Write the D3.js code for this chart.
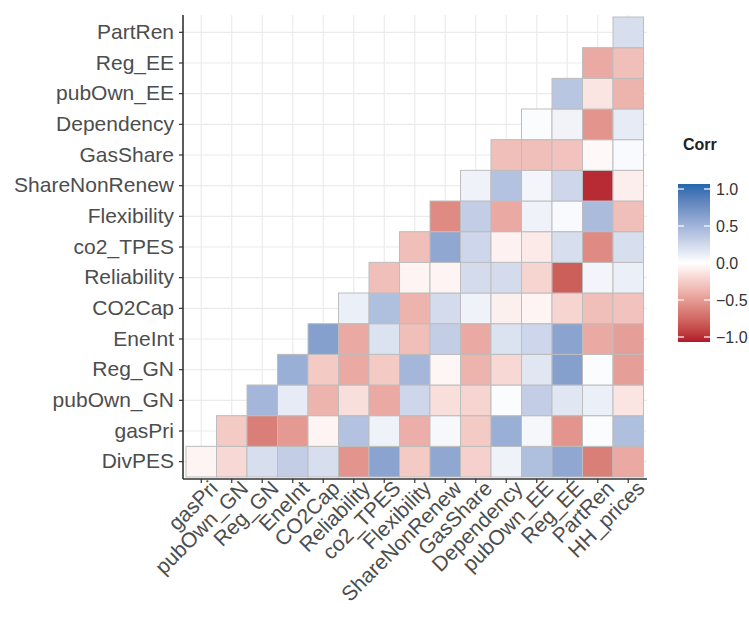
<!DOCTYPE html>
<html>
<head>
<meta charset="utf-8">
<script src="https://cdn.jsdelivr.net/npm/d3@7"></script>
<style>
  body { margin: 0; background: #fff; }
  text { font-family: "Liberation Sans", Arial, sans-serif; }
</style>
</head>
<body>
<div id="chart"></div>
<script>
// variables in plot order
const vars = ["DivPES", "gasPri", "pubOwn_GN", "Reg_GN", "EneInt", "CO2Cap", "Reliability",
  "co2_TPES", "Flexibility", "ShareNonRenew", "GasShare", "Dependency", "pubOwn_EE",
  "Reg_EE", "PartRen", "HH_prices"];
const xLabels = vars.slice(1);
const yLabels = vars.slice(0, 15);

// lower triangle, row i holds corr(vars[i], vars[j]) for j = i+1 .. 15
const corrRows = [
  [-0.05, -0.18, 0.2, 0.3, 0.2, -0.5, 0.58, -0.25, 0.55, -0.22, 0.08, 0.4, 0.55, -0.6, -0.4],
  [-0.25, -0.6, -0.48, -0.05, 0.38, 0.08, -0.38, 0.04, -0.25, 0.5, 0.05, -0.5, 0.02, 0.4],
  [0.45, 0.12, -0.35, -0.15, -0.4, 0.25, -0.15, -0.2, 0.02, 0.3, 0.15, 0.1, -0.12],
  [0.5, -0.25, -0.4, -0.25, 0.45, -0.04, -0.35, -0.18, 0.15, 0.6, 0.02, -0.45],
  [0.6, -0.4, 0.18, -0.3, 0.3, -0.4, 0.18, 0.25, 0.58, -0.4, -0.45],
  [0.1, 0.4, -0.35, 0.22, 0.08, -0.07, -0.05, -0.2, -0.3, -0.28],
  [-0.3, -0.05, -0.05, 0.22, 0.22, -0.2, -0.75, 0.06, 0.1],
  [-0.3, 0.55, 0.25, -0.06, -0.1, 0.2, -0.55, 0.2],
  [-0.55, 0.3, -0.4, 0.08, 0.03, 0.42, -0.3],
  [0.08, 0.38, 0.06, 0.25, -0.95, -0.08],
  [-0.3, -0.3, -0.28, -0.03, 0.03],
  [0.02, 0.07, -0.5, 0.12],
  [0.35, -0.12, -0.35],
  [-0.4, -0.3],
  [0.2]
];

const legendTicks = [1.0, 0.5, 0.0, -0.5, -1.0];

const W = 749, H = 617;
const svg = d3.select('#chart').append('svg')
  .attr('width', W).attr('height', H);

const x = d3.scaleBand().domain(xLabels).range([186, 643.5]);
const y = d3.scaleBand().domain(yLabels).range([477, 17]);
const color = d3.scaleLinear().domain([-1, 0, 1])
  .range(["#B2182B", "#FFFFFF", "#2166AC"])
  .interpolate(d3.interpolateLab);

const panel = { left: 183, right: 647, top: 15, bottom: 479 };

// grid
const grid = svg.append('g');
grid.selectAll('line.v').data(xLabels).enter().append('line')
  .attr('x1', d => x(d) + x.bandwidth() / 2).attr('x2', d => x(d) + x.bandwidth() / 2)
  .attr('y1', panel.top).attr('y2', panel.bottom)
  .attr('stroke', '#ebebeb').attr('stroke-width', 1.2);
grid.selectAll('line.h').data(yLabels).enter().append('line')
  .attr('y1', d => y(d) + y.bandwidth() / 2).attr('y2', d => y(d) + y.bandwidth() / 2)
  .attr('x1', panel.left).attr('x2', panel.right)
  .attr('stroke', '#ebebeb').attr('stroke-width', 1.2);

// cells
const cells = [];
corrRows.forEach((row, i) => {
  row.forEach((v, k) => {
    cells.push({ row: vars[i], col: vars[i + 1 + k], value: v });
  });
});

svg.append('g').selectAll('rect').data(cells).enter().append('rect')
  .attr('x', d => x(d.col))
  .attr('y', d => y(d.row))
  .attr('width', x.bandwidth())
  .attr('height', y.bandwidth())
  .attr('fill', d => color(d.value))
  .attr('stroke', '#bdbdbd')
  .attr('stroke-width', 1);

// axes
const yAxis = svg.append('g')
  .attr('transform', `translate(${panel.left},0)`)
  .call(d3.axisLeft(y).tickSize(4).tickPadding(5));
const xAxis = svg.append('g')
  .attr('transform', `translate(0,${panel.bottom})`)
  .call(d3.axisBottom(x).tickSize(4).tickPadding(5));

[xAxis, yAxis].forEach(a => {
  a.select('.domain').attr('stroke', '#333').attr('stroke-width', 1.6);
  a.selectAll('.tick line').attr('stroke', '#333').attr('stroke-width', 1.2);
  a.selectAll('.tick text').attr('fill', '#4d4d4d').style('font-size', '21px');
});
yAxis.select('.domain').attr('d', `M0,${panel.top}V${panel.bottom}`);
xAxis.select('.domain').attr('d', `M${panel.left},0H${panel.right}`);

xAxis.selectAll('.tick text')
  .attr('text-anchor', 'end')
  .attr('dy', '0.72em')
  .attr('y', 5)
  .attr('transform', 'rotate(-45)')
  .attr('x', 5);

// legend
const lg = svg.append('g');
lg.append('text').attr('x', 683).attr('y', 150)
  .attr('fill', '#222').style('font-size', '16px').style('font-weight', 'bold')
  .text('Corr');

const barX = 678, barW = 32, barTop = 184, barBot = 342;
const ly = d3.scaleLinear().domain([1, -1]).range([barTop + 5, barBot - 5]);

const defs = svg.append('defs');
const grad = defs.append('linearGradient').attr('id', 'corrGrad')
  .attr('x1', 0).attr('y1', 0).attr('x2', 0).attr('y2', 1);
d3.range(0, 21).forEach(i => {
  const t = i / 20;
  grad.append('stop').attr('offset', t).attr('stop-color', color(1 - 2 * t));
});
lg.append('rect').attr('x', barX).attr('y', barTop)
  .attr('width', barW).attr('height', barBot - barTop)
  .attr('fill', 'url(#corrGrad)');

legendTicks.forEach(t => {
  lg.append('line').attr('x1', barX).attr('x2', barX + 6)
    .attr('y1', ly(t)).attr('y2', ly(t)).attr('stroke', '#fff').attr('stroke-width', 1.2);
  lg.append('line').attr('x1', barX + barW - 6).attr('x2', barX + barW)
    .attr('y1', ly(t)).attr('y2', ly(t)).attr('stroke', '#fff').attr('stroke-width', 1.2);
  lg.append('text').attr('x', 716).attr('y', ly(t)).attr('dy', '0.35em')
    .attr('fill', '#333').style('font-size', '16px')
    .text(d3.format('.1f')(t));
});
</script>
</body>
</html>
